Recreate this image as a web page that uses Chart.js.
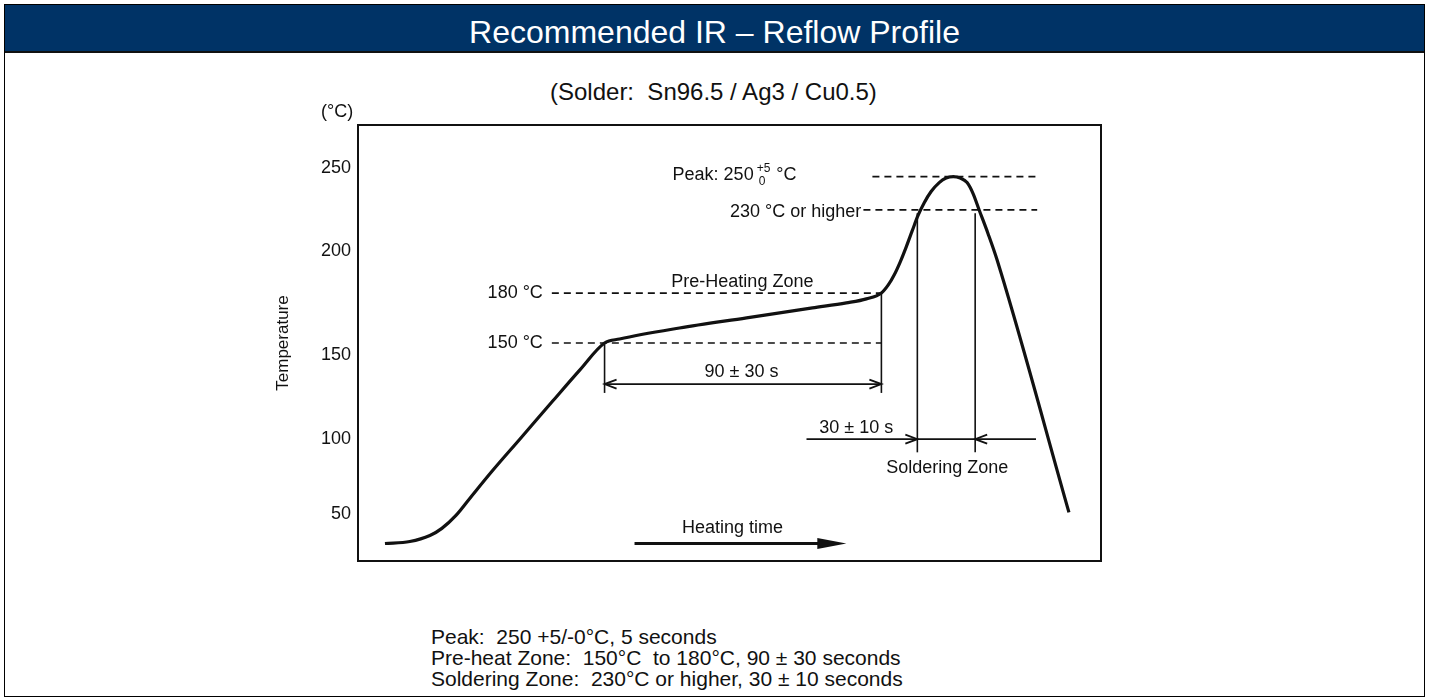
<!DOCTYPE html>
<html lang="en">
<head>
  <meta charset="UTF-8">
  <title>Recommended IR – Reflow Profile</title>
  <script src="https://cdn.jsdelivr.net/npm/chart.js"></script>
  <style>
    body {
      margin: 0;
      background: #fff;
      font-family: "Liberation Sans", Arial, sans-serif;
      color: #111;
    }
    #frame {
      position: absolute;
      left: 4px;
      top: 4px;
      width: 1419px;
      height: 691px;
      border: 1px solid #000;
    }
    #bar {
      position: absolute;
      left: 0;
      top: 0;
      width: 1419px;
      height: 46px;
      background: #003366;
      border-bottom: 2px solid #111;
    }
    #bar span {
      position: absolute;
      left: 0;
      width: 100%;
      top: 11px;
      text-align: center;
      color: #fff;
      font-size: 32px;
      line-height: 32px;
    }
    #sub {
      position: absolute;
      left: 550px;
      top: 80px;
      font-size: 24px;
      line-height: 24px;
      white-space: pre;
    }
    #notes {
      position: absolute;
      left: 431px;
      top: 626px;
      font-size: 21px;
      line-height: 21px;
      white-space: pre;
    }
    canvas {
      position: absolute;
      left: 0;
      top: 0;
    }
  </style>
</head>
<body>
<div id="frame"><div id="bar"><span>Recommended IR – Reflow Profile</span></div></div>
<div id="sub">(Solder:  Sn96.5 / Ag3 / Cu0.5)</div>
<div id="notes">Peak:  250 +5/-0°C, 5 seconds
Pre-heat Zone:  150°C  to 180°C, 90 ± 30 seconds
Soldering Zone:  230°C or higher, 30 ± 10 seconds</div>
<canvas id="profile" width="1429" height="700"></canvas>

<script>
  // profile curve (time in arbitrary units, temperature in °C)
  const timeS = [9, 17.3, 24, 28, 32.7, 37.3, 45, 54, 64.7, 74, 82.3,
    87.3, 107.3, 129.7, 151.7, 163, 169.7, 174.7,
    177, 179, 181, 183, 185, 186.9, 189, 191.3, 194, 196.3, 198.7, 201, 203.3, 205.3, 207.3, 210.3, 213.3, 237.3];
  const tempC = [29.5, 30.7, 34.3, 38.6, 46.4, 56.6, 73.5, 92.2, 114.5, 133.7, 150,
    152.4, 159, 165.1, 171.1, 174.1, 176.5, 180.1,
    184.9, 191, 198.8, 207.8, 217.5, 226.5, 234.3, 241, 246.4, 249.1, 250, 249.1, 246.4, 239.8, 230.1, 215.7, 200, 48.2];

  // printed axis labels and where they sit on the temperature scale
  const tickLabels = ['50', '100', '150', '200', '250'];
  const tickAt = [47, 92, 143, 205, 255];

  // dashed reference levels: [temp, fromTime, toTime]
  const levels = [[250, 171.7, 226.3], [230, 168.7, 226.7], [180, 64.7, 174.7], [150, 64.7, 174.7]];
  // vertical markers: [time, topTemp, bottomTemp]
  const markers = [[82.3, 150, 120], [174.7, 180, 120], [186.7, 228, 84.3], [206, 228, 84.3]];
  const preheat = {from: 82.3, to: 174.7, temp: 125.3};
  const soldering = {from: 186.7, to: 206, temp: 92.2, tailL: 149.7, tailR: 226.3};
  const heating = {from: 92.3, to: 163, temp: 29.5};

  // labels: [text, time, temp, align]
  const labels = [
    ['230 °C or higher', 168, 229, 'right'],
    ['180 °C', 61.7, 180, 'right'],
    ['150 °C', 61.7, 150, 'right'],
    ['Pre-Heating Zone', 128.3, 186.7, 'center'],
    ['90 ± 30 s', 128, 132.5, 'center'],
    ['30 ± 10 s', 166.3, 98.8, 'center'],
    ['Soldering Zone', 196.7, 74.7, 'center'],
    ['Heating time', 125, 38.6, 'center'],
    ['(°C)', -7, 288.6, 'center']
  ];
  const peakLabel = {text: 'Peak: 250', sup: '+5', sub: '0', unit: '°C', time: 105, temp: 251.2};

  const FONT = '"Liberation Sans", Arial, sans-serif';
  const INK = '#111';

  function openHead(ctx, x, y, dir) {
    ctx.beginPath();
    ctx.moveTo(x - dir * 12, y - 4.5);
    ctx.lineTo(x, y);
    ctx.lineTo(x - dir * 12, y + 4.5);
    ctx.stroke();
  }

  const drawing = {
    id: 'drawing',
    beforeDatasetsDraw(chart) {
      const {ctx, scales: {x, y}} = chart;
      ctx.save();
      ctx.strokeStyle = INK;
      ctx.lineWidth = 1.6;
      ctx.setLineDash([7, 5]);
      levels.forEach(([t, a, b]) => {
        ctx.beginPath();
        ctx.moveTo(x.getPixelForValue(a), y.getPixelForValue(t));
        ctx.lineTo(x.getPixelForValue(b), y.getPixelForValue(t));
        ctx.stroke();
      });
      ctx.setLineDash([]);
      markers.forEach(([t, top, bot]) => {
        ctx.beginPath();
        ctx.moveTo(x.getPixelForValue(t), y.getPixelForValue(top));
        ctx.lineTo(x.getPixelForValue(t), y.getPixelForValue(bot));
        ctx.stroke();
      });
      ctx.restore();
    },
    afterDraw(chart) {
      const {ctx, chartArea: a, scales: {x, y}} = chart;
      ctx.save();
      ctx.strokeStyle = INK;
      ctx.fillStyle = INK;

      // frame of the plot
      ctx.lineWidth = 2;
      ctx.strokeRect(a.left, a.top, a.right - a.left, a.bottom - a.top);

      // 90 ± 30 s double arrow
      ctx.lineWidth = 1.8;
      let py = y.getPixelForValue(preheat.temp);
      let p1 = x.getPixelForValue(preheat.from), p2 = x.getPixelForValue(preheat.to);
      ctx.beginPath(); ctx.moveTo(p1, py); ctx.lineTo(p2, py); ctx.stroke();
      openHead(ctx, p1, py, -1);
      openHead(ctx, p2, py, 1);

      // soldering zone arrows
      py = y.getPixelForValue(soldering.temp);
      p1 = x.getPixelForValue(soldering.from); p2 = x.getPixelForValue(soldering.to);
      ctx.beginPath();
      ctx.moveTo(x.getPixelForValue(soldering.tailL), py);
      ctx.lineTo(x.getPixelForValue(soldering.tailR), py);
      ctx.stroke();
      openHead(ctx, p1, py, 1);
      openHead(ctx, p2, py, -1);

      // heating time arrow
      py = y.getPixelForValue(heating.temp);
      p1 = x.getPixelForValue(heating.from); p2 = x.getPixelForValue(heating.to);
      ctx.lineWidth = 3;
      ctx.beginPath(); ctx.moveTo(p1, py); ctx.lineTo(p2 - 20, py); ctx.stroke();
      ctx.beginPath();
      ctx.moveTo(p2, py); ctx.lineTo(p2 - 29, py - 5.5); ctx.lineTo(p2 - 29, py + 5.5);
      ctx.closePath(); ctx.fill();

      // text
      ctx.font = '18px ' + FONT;
      ctx.textBaseline = 'middle';
      labels.forEach(([txt, t, v, al]) => {
        ctx.textAlign = al;
        ctx.fillText(txt, x.getPixelForValue(t), y.getPixelForValue(v));
      });

      const lx = x.getPixelForValue(peakLabel.time), ly = y.getPixelForValue(peakLabel.temp);
      ctx.textAlign = 'left';
      ctx.fillText(peakLabel.text, lx, ly);
      let cx = lx + ctx.measureText(peakLabel.text).width + 3;
      ctx.font = '12px ' + FONT;
      ctx.fillText(peakLabel.sup, cx, ly - 6);
      ctx.fillText(peakLabel.sub, cx + 2, ly + 7);
      cx += ctx.measureText(peakLabel.sup).width + 6;
      ctx.font = '18px ' + FONT;
      ctx.fillText(peakLabel.unit, cx, ly);
      ctx.restore();
    }
  };

  new Chart(document.getElementById('profile'), {
    type: 'line',
    data: {
      datasets: [{
        data: timeS.map((t, i) => ({x: t, y: tempC[i]})),
        borderColor: INK,
        borderWidth: 3.2,
        pointRadius: 0,
        fill: false,
        cubicInterpolationMode: 'monotone'
      }]
    },
    options: {
      responsive: false,
      animation: false,
      devicePixelRatio: 1,
      layout: {padding: {left: 273, top: 125, right: 328, bottom: 139}},
      plugins: {legend: {display: false}, tooltip: {enabled: false}},
      scales: {
        x: {type: 'linear', min: 0, max: 248, display: false},
        y: {
          min: 19,
          max: 281,
          grid: {display: false, drawTicks: false},
          border: {display: false},
          afterBuildTicks: s => { s.ticks = tickAt.map(v => ({value: v})); },
          afterFit: s => { s.width = 85; },
          ticks: {
            color: INK,
            padding: 7,
            font: {family: FONT, size: 18},
            callback: (v, i) => tickLabels[i]
          },
          title: {
            display: true,
            text: 'Temperature',
            color: INK,
            padding: {top: 0, bottom: 0},
            font: {family: FONT, size: 17}
          }
        }
      }
    },
    plugins: [drawing]
  });
</script>
</body>
</html>
